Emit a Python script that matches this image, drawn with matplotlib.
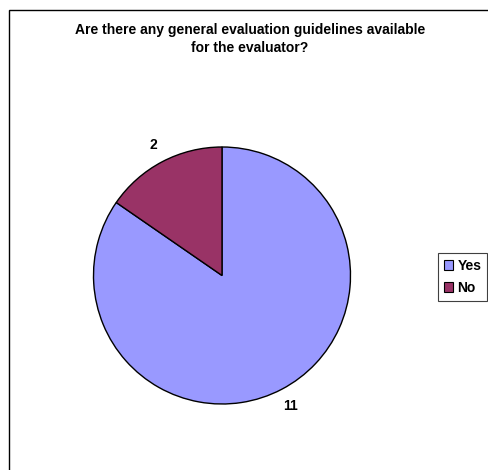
import matplotlib
matplotlib.use("Agg")
import matplotlib.pyplot as plt
import matplotlib.patches as mpatches

plt.rcParams["font.family"] = ["Liberation Sans", "DejaVu Sans"]

TITLE = "Are there any general evaluation guidelines available\nfor the evaluator?"
categories = ["Yes", "No"]
counts = [11, 2]
colors = ["#9999FF", "#993366"]

W, H = 489, 470
fig = plt.figure(figsize=(W / 100, H / 100), dpi=100, facecolor="white")

# outer chart frame (runs off the right and bottom edges)
frame = mpatches.Rectangle((9 / W, -0.02), 1.05, (H - 10) / H + 0.02,
                           transform=fig.transFigure, fill=False,
                           edgecolor="black", linewidth=1.0)
fig.patches.append(frame)

fig.text(250 / W, 1 - 39 / H, TITLE, ha="center", va="center",
         fontsize=10, fontweight="bold", linespacing=1.45)

# pie area: centre (222, 275) px, radius ~128 px
cx, cy, r = 222, 275.5, 128.5
ax = fig.add_axes([(cx - r) / W, (H - cy - r) / H, 2 * r / W, 2 * r / H])
total = sum(counts)
wedges, _, autotexts = ax.pie(
    counts, colors=colors, startangle=90, counterclock=False, radius=1,
    autopct=lambda p: f"{round(p * total / 100)}", pctdistance=1.15,
    wedgeprops=dict(edgecolor="black", linewidth=1.0),
    textprops=dict(fontsize=10, fontweight="bold", color="black"),
)
ax.set_xlim(-1, 1)
ax.set_ylim(-1, 1)
ax.set_aspect("equal")
ax.axis("off")

handles = [mpatches.Patch(facecolor=c, edgecolor="black", linewidth=0.8, label=l)
           for l, c in zip(categories, colors)]
leg = fig.legend(handles=handles, loc="center left",
                 bbox_to_anchor=(438 / W, 1 - 277 / H),
                 frameon=True, fancybox=False, shadow=False,
                 edgecolor="#404040", framealpha=1,
                 handlelength=0.7, handleheight=0.7, handletextpad=0.3,
                 labelspacing=0.6, borderpad=0.4, borderaxespad=0,
                 prop=dict(size=10, weight="bold"))
leg.get_frame().set_linewidth(0.8)

fig.savefig("out.png", dpi=100, facecolor="white")
